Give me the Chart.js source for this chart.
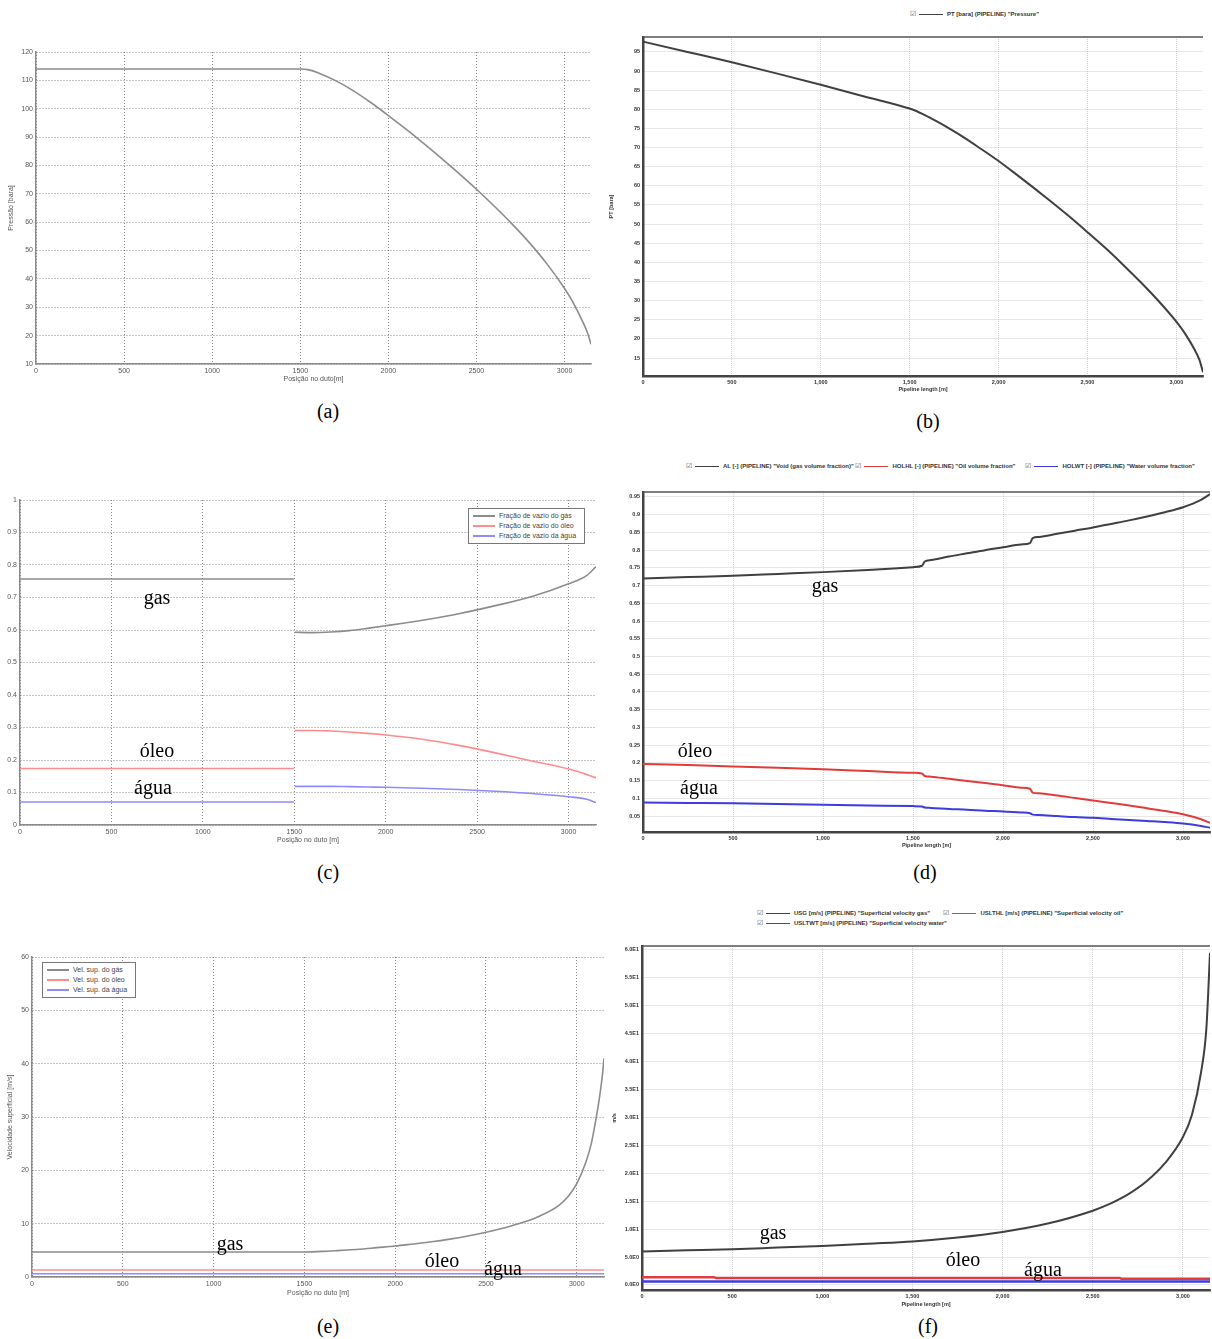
<!DOCTYPE html>
<html lang="pt">
<head>
<meta charset="UTF-8">
<title>Perfis ao longo do duto</title>
<script src="https://cdn.jsdelivr.net/npm/chart.js"></script>
<style>
    body {
        margin: 0;
        width: 1212px;
        height: 1339px;
        position: relative;
        overflow: hidden;
        background: #fff;
        font-family: "Liberation Sans", Arial, sans-serif;
    }
    .panel { position: absolute; }
    .cap, .note {
        position: absolute;
        font-family: "Liberation Serif", "Times New Roman", serif;
        font-size: 20px;
        color: #000;
        transform: translate(-50%, -50%);
        white-space: nowrap;
    }
    .box {
        position: absolute;
        border: 1px solid #777;
        background: #fff;
        font-size: 7px;
        color: #444;
        padding: 2px 4px;
        line-height: 10px;
    }
    .sw {
        display: inline-block;
        width: 22px;
        height: 1.5px;
        vertical-align: middle;
        margin-right: 4px;
    }
    .olga {
        position: absolute;
        font-size: 6px;
        font-weight: bold;
        color: #333;
        white-space: nowrap;
        line-height: 9px;
    }
    .olga .sw { width: 24px; margin: 0 4px 0 3px; }
    .chk { font-size: 7px; font-weight: normal; color: #555; }
</style>
</head>
<body>

<!-- (a) -->
<div class="panel" style="left:4px; top:44px; width:594px; height:342px"><canvas id="chA"></canvas></div>
<div class="cap" style="left:328px; top:411px">(a)</div>

<!-- (b) -->
<div class="olga" style="left:910px; top:9px"><span class="chk">&#9745;</span><span class="sw" style="background:#404040"></span>PT [bara] (PIPELINE) "Pressure"</div>
<div class="panel" style="left:605px; top:30px; width:604px; height:366px"><canvas id="chB"></canvas></div>
<div class="cap" style="left:928px; top:421px">(b)</div>

<!-- (c) -->
<div class="panel" style="left:2px; top:492px; width:601px; height:355px"><canvas id="chC"></canvas></div>
<div class="box" style="left:468px; top:508px; width:107px">
    <div><span class="sw" style="background:#8c8c8c"></span>Fração de vazio do gás</div>
    <div><span class="sw" style="background:#ff8c8c"></span>Fração de vazio do óleo</div>
    <div><span class="sw" style="background:#8c8cff"></span>Fração de vazio da água</div>
</div>
<div class="note" style="left:157px; top:597px">gas</div>
<div class="note" style="left:157px; top:750px">óleo</div>
<div class="note" style="left:153px; top:787px">água</div>
<div class="cap" style="left:328px; top:872px">(c)</div>

<!-- (d) -->
<div class="olga" style="left:686px; top:461px">
    <span class="chk">&#9745;</span><span class="sw" style="background:#404040"></span>AL [-] (PIPELINE) "Void (gas volume fraction)"
    <span class="chk">&#9745;</span><span class="sw" style="background:#e03c3c"></span>HOLHL [-] (PIPELINE) "Oil volume fraction"
    &nbsp;&nbsp;&nbsp;&nbsp;&nbsp;<span class="chk">&#9745;</span><span class="sw" style="background:#3c3ce0"></span>HOLWT [-] (PIPELINE) "Water volume fraction"
</div>
<div class="panel" style="left:606px; top:485px; width:606px; height:367px"><canvas id="chD"></canvas></div>
<div class="note" style="left:825px; top:585px">gas</div>
<div class="note" style="left:695px; top:750px">óleo</div>
<div class="note" style="left:699px; top:787px">água</div>
<div class="cap" style="left:925px; top:872px">(d)</div>

<!-- (e) -->
<div class="panel" style="left:3px; top:949px; width:607px; height:351px"><canvas id="chE"></canvas></div>
<div class="box" style="left:42px; top:962px; width:84px">
    <div><span class="sw" style="background:#8c8c8c"></span>Vel. sup. do gás</div>
    <div><span class="sw" style="background:#ff8c8c"></span>Vel. sup. do óleo</div>
    <div><span class="sw" style="background:#8c8cff"></span>Vel. sup. da água</div>
</div>
<div class="note" style="left:230px; top:1243px">gas</div>
<div class="note" style="left:442px; top:1260px">óleo</div>
<div class="note" style="left:503px; top:1268px">água</div>
<div class="cap" style="left:328px; top:1326px">(e)</div>

<!-- (f) -->
<div class="olga" style="left:757px; top:908px">
    <span class="chk">&#9745;</span><span class="sw" style="background:#404040"></span>USG [m/s] (PIPELINE) "Superficial velocity gas"
    &nbsp;&nbsp;&nbsp;&nbsp;&nbsp;&nbsp;&nbsp;<span class="chk">&#9745;</span><span class="sw" style="background:#e03c3c"></span>USLTHL [m/s] (PIPELINE) "Superficial velocity oil"<br>
    <span class="chk">&#9745;</span><span class="sw" style="background:#3c3ce0"></span>USLTWT [m/s] (PIPELINE) "Superficial velocity water"
</div>
<div class="panel" style="left:608px; top:939px; width:604px; height:372px"><canvas id="chF"></canvas></div>
<div class="note" style="left:773px; top:1232px">gas</div>
<div class="note" style="left:963px; top:1259px">óleo</div>
<div class="note" style="left:1043px; top:1269px">água</div>
<div class="cap" style="left:928px; top:1326px">(f)</div>

<script>
// ---- data ----
var xTicks = [0, 500, 1000, 1500, 2000, 2500, 3000];

// (a) pressure, simplified model
var posA   = [0, 1500, 1550, 1600, 1700, 1800, 1900, 2000, 2100, 2200, 2300, 2400, 2500, 2600, 2700, 2800, 2900, 3000, 3050, 3100, 3130, 3150];
var pressA = [114, 114, 113.7, 112.7, 109.9, 106.4, 102.2, 97.6, 92.8, 87.8, 82.6, 77.2, 71.6, 65.7, 59.5, 52.8, 45.3, 36.6, 31.5, 25.3, 21, 17];
var yTicksA = [10, 20, 30, 40, 50, 60, 70, 80, 90, 100, 110, 120];

// (b) pressure, OLGA
var posB   = [0, 250, 500, 750, 1000, 1250, 1500, 1540, 1580, 1650, 1700, 1800, 1900, 2000, 2100, 2200, 2300, 2400, 2500, 2600, 2700, 2800, 2900, 3000, 3050, 3100, 3130, 3150];
var pressB = [97.7, 95.0, 92.3, 89.4, 86.4, 83.3, 80.2, 79.5, 78.6, 76.9, 75.6, 72.8, 69.7, 66.5, 63.0, 59.4, 55.7, 51.9, 47.9, 43.8, 39.4, 34.8, 29.9, 24.5, 21.3, 17.4, 14.5, 11.3];
var yTicksB = [15, 20, 25, 30, 35, 40, 45, 50, 55, 60, 65, 70, 75, 80, 85, 90, 95];

// (c) volume fractions, simplified model (gap at 1500 m)
var posC   = [0, 1498, 1500, 1502, 1600, 1700, 1800, 1900, 2000, 2200, 2400, 2600, 2800, 3000, 3100, 3150];
var gasC   = [0.757, 0.757, null, 0.593, 0.592, 0.594, 0.598, 0.605, 0.613, 0.630, 0.650, 0.675, 0.703, 0.742, 0.768, 0.795];
var oilC   = [0.174, 0.174, null, 0.291, 0.291, 0.289, 0.286, 0.282, 0.277, 0.264, 0.245, 0.222, 0.197, 0.172, 0.155, 0.145];
var waterC = [0.071, 0.071, null, 0.119, 0.119, 0.119, 0.118, 0.117, 0.116, 0.113, 0.109, 0.104, 0.097, 0.087, 0.079, 0.069];
var yTicksC = [0, 0.1, 0.2, 0.3, 0.4, 0.5, 0.6, 0.7, 0.8, 0.9, 1];

// (d) volume fractions, OLGA
var posD   = [0, 250, 500, 750, 1000, 1250, 1500, 1550, 1565, 1600, 1700, 1800, 1900, 2000, 2100, 2150, 2165, 2200, 2300, 2400, 2500, 2600, 2700, 2800, 2900, 3000, 3100, 3150];
var gasD   = [0.720, 0.724, 0.728, 0.733, 0.738, 0.744, 0.752, 0.756, 0.768, 0.772, 0.782, 0.791, 0.800, 0.808, 0.816, 0.820, 0.834, 0.837, 0.846, 0.855, 0.864, 0.874, 0.884, 0.895, 0.907, 0.921, 0.942, 0.958];
var oilD   = [0.197, 0.194, 0.190, 0.186, 0.182, 0.177, 0.172, 0.170, 0.163, 0.161, 0.155, 0.149, 0.143, 0.137, 0.130, 0.127, 0.116, 0.114, 0.108, 0.101, 0.094, 0.087, 0.080, 0.072, 0.064, 0.055, 0.041, 0.031];
var waterD = [0.088, 0.087, 0.086, 0.084, 0.082, 0.080, 0.078, 0.077, 0.074, 0.073, 0.070, 0.068, 0.065, 0.063, 0.060, 0.058, 0.054, 0.053, 0.050, 0.047, 0.045, 0.042, 0.039, 0.036, 0.033, 0.029, 0.022, 0.017];
var yTicksD = [0.05, 0.1, 0.15, 0.2, 0.25, 0.3, 0.35, 0.4, 0.45, 0.5, 0.55, 0.6, 0.65, 0.7, 0.75, 0.8, 0.85, 0.9, 0.95];

// (e) superficial velocities, simplified model
var posE   = [0, 1500, 1600, 1700, 1800, 1900, 2000, 2100, 2200, 2300, 2400, 2500, 2600, 2700, 2800, 2900, 2950, 3000, 3050, 3080, 3100, 3120, 3140, 3150];
var gasE   = [4.7, 4.7, 4.8, 5.0, 5.2, 5.5, 5.8, 6.2, 6.6, 7.1, 7.7, 8.4, 9.2, 10.2, 11.5, 13.4, 15.0, 17.5, 21.5, 25, 28.5, 32.5, 37.5, 41];
var posE2  = [0, 3150];
var oilE   = [1.3, 1.3];
var waterE = [0.6, 0.6];
var yTicksE = [0, 10, 20, 30, 40, 50, 60];

// (f) superficial velocities, OLGA
var posF   = [0, 250, 500, 750, 1000, 1250, 1500, 1750, 2000, 2250, 2500, 2600, 2700, 2800, 2900, 3000, 3050, 3100, 3130, 3150];
var gasF   = [6.0, 6.2, 6.4, 6.7, 7.0, 7.4, 7.8, 8.5, 9.5, 11.0, 13.3, 14.6, 16.3, 18.6, 21.8, 26.5, 30.5, 38.0, 46.0, 59.5];
var posF2  = [0, 400, 410, 2650, 2660, 3150];
var oilF   = [1.4, 1.4, 1.25, 1.25, 1.1, 1.1];
var waterF = [0.6, 0.6, 0.6, 0.6, 0.6, 0.6];
var yTicksF = [0, 5, 10, 15, 20, 25, 30, 35, 40, 45, 50, 55, 60];

// ---- helpers ----
function pts(xs, ys) {
    return xs.map(function (x, i) { return { x: x, y: ys[i] }; });
}

function line(xs, ys, color, width) {
    return {
        data: pts(xs, ys),
        borderColor: color,
        borderWidth: width,
        pointRadius: 0,
        fill: false,
        spanGaps: false,
        cubicInterpolationMode: 'monotone'
    };
}

// frame line on top of the plot for the OLGA panels
var topFrame = {
    id: 'topFrame',
    afterDraw: function (chart, args, o) {
        if (!o.on) return;
        var a = chart.chartArea, ctx = chart.ctx;
        ctx.save();
        ctx.strokeStyle = '#555';
        ctx.lineWidth = 1.5;
        ctx.beginPath();
        ctx.moveTo(a.left, a.top);
        ctx.lineTo(a.right, a.top);
        ctx.stroke();
        ctx.restore();
    }
};

function makeChart(id, s) {
    var olga = s.olga;
    var tickFont = olga ? { family: 'Liberation Sans', size: 5.5, weight: 'bold' }
                        : { family: 'Liberation Sans', size: 7 };
    var tickColor = olga ? '#333' : '#555';
    var gridColor = olga ? '#bdbdbd' : '#555';
    var dash = olga ? [1, 1] : [1, 2];
    var borderColor = olga ? '#444' : '#8a8a8a';
    var borderWidth = olga ? 2.5 : 1.5;

    new Chart(document.getElementById(id), {
        type: 'line',
        data: { datasets: s.datasets },
        plugins: [topFrame],
        options: {
            responsive: true,
            maintainAspectRatio: false,
            animation: false,
            layout: { padding: { left: 0, top: s.padTop, right: s.padRight, bottom: 0 } },
            plugins: {
                legend: { display: false },
                tooltip: { enabled: false },
                topFrame: { on: olga }
            },
            scales: {
                x: {
                    type: 'linear',
                    min: 0,
                    max: 3150,
                    afterBuildTicks: function (sc) { sc.ticks = xTicks.map(function (v) { return { value: v }; }); },
                    afterFit: function (sc) { sc.height = s.xh; },
                    ticks: {
                        font: tickFont,
                        color: tickColor,
                        padding: 3,
                        maxRotation: 0,
                        autoSkip: false,
                        callback: function (v) { return olga ? v.toLocaleString('en-US') : String(v); }
                    },
                    grid: { color: gridColor, lineWidth: 0.7, drawTicks: false },
                    border: { color: borderColor, width: borderWidth, dash: dash },
                    title: {
                        display: true,
                        text: s.xTitle,
                        color: tickColor,
                        font: olga ? { family: 'Liberation Sans', size: 5.5, weight: 'bold' } : { family: 'Liberation Sans', size: 7 },
                        padding: { top: 0, bottom: 3 }
                    }
                },
                y: {
                    type: 'linear',
                    min: s.yMin,
                    max: s.yMax,
                    afterBuildTicks: function (sc) { sc.ticks = s.yTicks.map(function (v) { return { value: v }; }); },
                    afterFit: function (sc) { sc.width = s.yw; },
                    ticks: {
                        font: tickFont,
                        color: tickColor,
                        padding: 3,
                        autoSkip: false,
                        callback: s.yFmt || function (v) { return String(v); }
                    },
                    grid: { color: gridColor, lineWidth: 0.7, drawTicks: false },
                    border: { color: borderColor, width: borderWidth, dash: dash },
                    title: {
                        display: !!s.yTitle,
                        text: s.yTitle || '',
                        color: tickColor,
                        font: olga ? { family: 'Liberation Sans', size: 5.5, weight: 'bold' } : { family: 'Liberation Sans', size: 7 },
                        padding: { top: 3, bottom: 0 }
                    }
                }
            }
        }
    });
}

var grayM = '#8c8c8c', redM = '#ff8c8c', blueM = '#8c8cff';
var grayO = '#404040', redO = '#e03c3c', blueO = '#3c3ce0';

makeChart('chA', {
    olga: false, yw: 32, xh: 22, padTop: 8, padRight: 7,
    yMin: 10, yMax: 120, yTicks: yTicksA,
    xTitle: 'Posição no duto[m]', yTitle: 'Pressão [bara]',
    datasets: [line(posA, pressA, grayM, 1.6)]
});

makeChart('chB', {
    olga: true, yw: 38, xh: 20, padTop: 7, padRight: 6,
    yMin: 10.3, yMax: 98.9, yTicks: yTicksB,
    xTitle: 'Pipeline length [m]', yTitle: 'PT [bara]',
    datasets: [line(posB, pressB, grayO, 2)]
});

makeChart('chC', {
    olga: false, yw: 18, xh: 22, padTop: 8, padRight: 7,
    yMin: 0, yMax: 1, yTicks: yTicksC,
    xTitle: 'Posição no duto [m]',
    datasets: [
        line(posC, gasC, grayM, 1.6),
        line(posC, oilC, redM, 1.6),
        line(posC, waterC, blueM, 1.6)
    ]
});

makeChart('chD', {
    olga: true, yw: 37, xh: 20, padTop: 7, padRight: 2,
    yMin: 0.005, yMax: 0.964, yTicks: yTicksD,
    xTitle: 'Pipeline length [m]',
    datasets: [
        line(posD, gasD, grayO, 2),
        line(posD, oilD, redO, 2),
        line(posD, waterD, blueO, 2)
    ]
});

makeChart('chE', {
    olga: false, yw: 29, xh: 23, padTop: 8, padRight: 6,
    yMin: 0, yMax: 60, yTicks: yTicksE,
    xTitle: 'Posição no duto [m]', yTitle: 'Velocidade superficial [m/s]',
    datasets: [
        line(posE, gasE, grayM, 1.6),
        line(posE2, oilE, redM, 1.6),
        line(posE2, waterE, blueM, 1.6)
    ]
});

makeChart('chF', {
    olga: true, yw: 34, xh: 21, padTop: 7, padRight: 2,
    yMin: -0.9, yMax: 60.7, yTicks: yTicksF,
    xTitle: 'Pipeline length [m]', yTitle: 'm/s',
    yFmt: function (v) { return v.toExponential(1).toUpperCase().replace('E+', 'E'); },
    datasets: [
        line(posF, gasF, grayO, 2),
        line(posF2, oilF, redO, 2.5),
        line(posF2, waterF, blueO, 2.5)
    ]
});
</script>
</body>
</html>
